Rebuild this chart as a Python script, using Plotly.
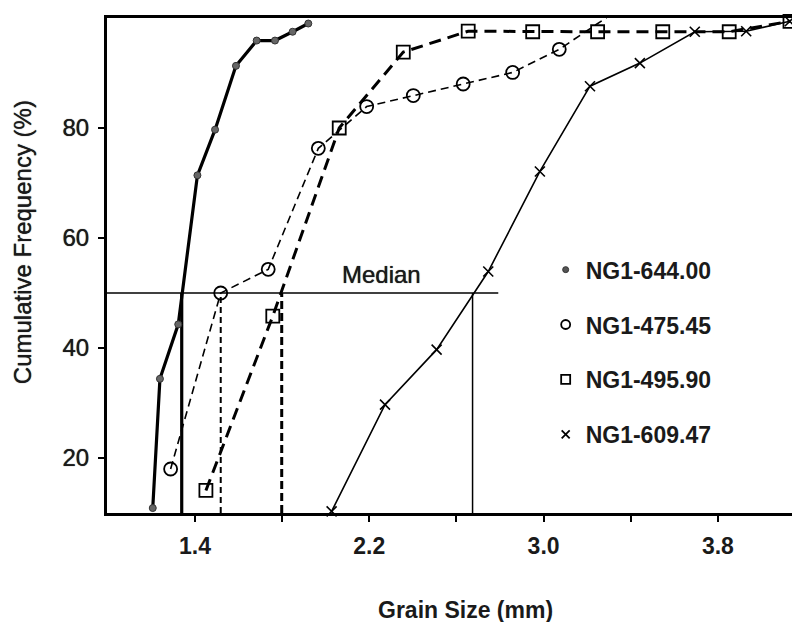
import plotly.graph_objects as go

# ---- data ----
s644_x = [1.206, 1.239, 1.323, 1.411, 1.492, 1.588, 1.683, 1.767, 1.848, 1.920]
s644_y = [10.9, 34.4, 44.3, 71.4, 79.7, 91.3, 95.9, 95.9, 97.5, 99.0]

s475_x = [1.288, 1.518, 1.736, 1.966, 2.188, 2.402, 2.631, 2.858, 3.072, 3.297]
s475_y = [18.0, 50.0, 54.3, 76.3, 83.9, 85.9, 88.0, 90.1, 94.3, 100.3]

s495_x = [1.450, 1.757, 2.062, 2.356, 2.654, 2.950, 3.248, 3.547, 3.852, 4.131]
s495_y = [14.1, 45.8, 80.0, 93.8, 97.6, 97.5, 97.5, 97.5, 97.5, 99.4]

s609_x = [2.027, 2.272, 2.509, 2.746, 2.983, 3.213, 3.442, 3.694, 3.930, 4.130]
s609_y = [10.3, 29.7, 39.7, 53.9, 72.1, 87.6, 91.8, 97.5, 97.6, 99.4]

names = ["NG1-644.00", "NG1-475.45", "NG1-495.90", "NG1-609.47"]
median_x = [1.339, 1.518, 1.798, 2.674]   # median grain size per sample
median_pct = 50
median_line_end = 2.792

x_min, x_max = 0.996, 4.177
y_min, y_max = 10, 100
x_tickvals = [1.4, 1.8, 2.2, 2.6, 3.0, 3.4, 3.8]
x_ticktext = ["1.4", "", "2.2", "", "3.0", "", "3.8"]
y_tickvals = [20, 40, 60, 80]

FONT = "Liberation Sans, Arial, Helvetica, sans-serif"
TXT = "#1a1a1a"
bold23 = dict(family=FONT, size=23, color=TXT, weight="bold")
reg24 = dict(family=FONT, size=24, color=TXT, weight="normal",
             shadow="0px 0px 0.8px #1a1a1a")

fig = go.Figure()

# median horizontal line
fig.add_trace(go.Scatter(x=[x_min, median_line_end], y=[median_pct, median_pct],
                         mode="lines", line=dict(color="black", width=1.5),
                         showlegend=False, hoverinfo="skip"))
# median verticals
med_styles = [dict(width=3.2, dash="solid"),
              dict(width=2.0, dash="6px,4px"),
              dict(width=3.0, dash="8px,4px"),
              dict(width=1.5, dash="solid")]
for mx, st in zip(median_x, med_styles):
    fig.add_trace(go.Scatter(x=[mx, mx], y=[y_min, median_pct], mode="lines",
                             line=dict(color="black", **st),
                             showlegend=False, hoverinfo="skip"))

series = [
    (s644_x, s644_y, dict(color="black", width=3.2, dash="solid"),
     dict(symbol="circle", size=7, color="#666", line=dict(color="#333", width=1))),
    (s475_x, s475_y, dict(color="black", width=1.6, dash="8px,5px"),
     dict(symbol="circle-open", size=13, color="black", line=dict(width=1.8))),
    (s495_x, s495_y, dict(color="black", width=3.0, dash="12px,7px"),
     dict(symbol="square-open", size=13, color="black", line=dict(width=1.8))),
    (s609_x, s609_y, dict(color="black", width=1.6, dash="solid"),
     dict(symbol="x-thin-open", size=10, color="black", line=dict(width=1.6))),
]
for (sx, sy, ln, mk) in series:
    fig.add_trace(go.Scatter(x=sx, y=sy, mode="lines+markers", line=ln, marker=mk,
                             showlegend=False, cliponaxis=False))

# legend entries (marker only)
leg_markers = [
    dict(symbol="circle", size=6, color="#555", line=dict(color="#333", width=1)),
    dict(symbol="circle-open", size=9, color="black", line=dict(width=1.8)),
    dict(symbol="square-open", size=9, color="black", line=dict(width=1.8)),
    dict(symbol="x-thin-open", size=8, color="black", line=dict(width=1.8)),
]
for i, (nm, mk) in enumerate(zip(names, leg_markers)):
    fig.add_trace(go.Scatter(x=[None], y=[None], mode="markers", marker=mk,
                             name=nm, legendgroup=f"g{i}", showlegend=True))

fig.add_annotation(x=2.257, y=53.3, text="Median", showarrow=False, font=reg24)
fig.add_annotation(x=0.518, y=-0.196, xref="paper", yref="paper", text="Grain Size (mm)",
                   xanchor="center", yanchor="middle", showarrow=False, font=bold23)
fig.add_annotation(x=-0.1227, y=0.547, xref="paper", yref="paper",
                   text="Cumulative Frequency (%)", textangle=-90,
                   xanchor="center", yanchor="middle", showarrow=False, font=reg24)

# page body has an 8px margin: compensate so the plot area lands where the reference has it
fig.update_layout(
    width=792, height=614,
    margin=dict(l=99, r=0, t=10, b=109, autoexpand=False),
    paper_bgcolor="white", plot_bgcolor="white",
    font=bold23,
    legend=dict(x=0.633, y=0.535, xanchor="left", yanchor="top",
                tracegroupgap=22, itemwidth=30, bgcolor="rgba(0,0,0,0)",
                font=bold23),
    xaxis=dict(range=[x_min, x_max], showgrid=False, zeroline=False,
               showline=True, linecolor="black", linewidth=3, mirror=True,
               ticks="outside", ticklen=6, tickwidth=2, tickcolor="black",
               tickvals=x_tickvals, ticktext=x_ticktext, ticklabelstandoff=4,
               tickfont=bold23),
    yaxis=dict(range=[y_min, y_max], showgrid=False, zeroline=False,
               showline=True, linecolor="black", linewidth=3,
               ticks="outside", ticklen=6, tickwidth=2, tickcolor="black",
               tickvals=y_tickvals, ticklabelstandoff=4, tickfont=reg24),
)

fig.write_html("out.html")
